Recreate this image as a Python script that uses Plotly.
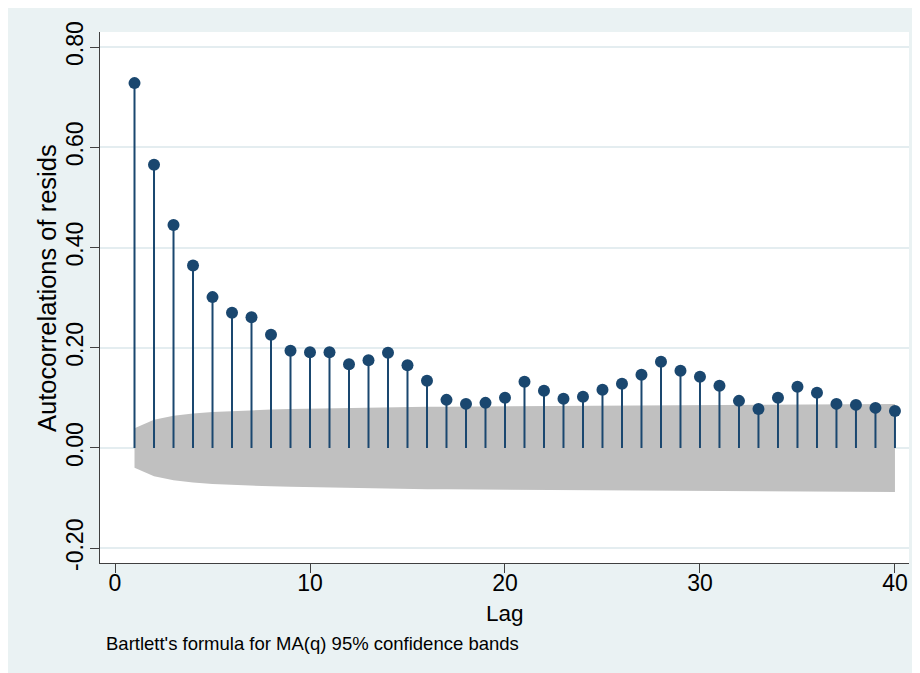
import plotly.graph_objects as go

# ---- data ----
lags = list(range(1, 41))
acf = [0.728, 0.565, 0.445, 0.364, 0.301, 0.270, 0.261, 0.226, 0.194, 0.191,
       0.191, 0.167, 0.175, 0.190, 0.165, 0.134, 0.096, 0.088, 0.090, 0.100,
       0.132, 0.114, 0.098, 0.102, 0.116, 0.128, 0.146, 0.172, 0.154, 0.142,
       0.124, 0.094, 0.078, 0.100, 0.122, 0.110, 0.088, 0.086, 0.080, 0.074]
# upper limit of the 95% confidence band (Bartlett)
band = [0.0392, 0.0563, 0.0644, 0.0689, 0.0718, 0.0737, 0.0753, 0.0766, 0.0776, 0.0784,
        0.0791, 0.0798, 0.0803, 0.0809, 0.0816, 0.0821, 0.0824, 0.0826, 0.0828, 0.0829,
        0.0831, 0.0834, 0.0837, 0.0838, 0.0840, 0.0843, 0.0846, 0.0850, 0.0855, 0.0859,
        0.0863, 0.0865, 0.0867, 0.0868, 0.0870, 0.0872, 0.0875, 0.0876, 0.0877, 0.0878]
y_tickvals = [-0.2, 0.0, 0.2, 0.4, 0.6, 0.8]
y_ticktext = ["-0.20", "0.00", "0.20", "0.40", "0.60", "0.80"]
x_tickvals = [0, 10, 20, 30, 40]
x_ticktext = ["0", "10", "20", "30", "40"]

NAVY = "#1a476f"
BG = "#EAF2F3"
FONT = "Liberation Sans, Arial, Helvetica, sans-serif"
AX = "#404040"

X_RANGE = [-0.77, 40.72]
Y_RANGE = [-0.2295, 0.830]

fig = go.Figure()

# confidence band
fig.add_trace(go.Scatter(x=lags, y=band, mode="lines", line=dict(width=0, color="#C0C0C0"),
                         showlegend=False, hoverinfo="skip"))
fig.add_trace(go.Scatter(x=lags, y=[-b for b in band], mode="lines",
                         line=dict(width=0, color="#C0C0C0"), fill="tonexty",
                         fillcolor="#C0C0C0", showlegend=False, hoverinfo="skip"))

# stems
sx, sy = [], []
for k, r in zip(lags, acf):
    sx += [k, k, None]
    sy += [0, r, None]
fig.add_trace(go.Scatter(x=sx, y=sy, mode="lines", line=dict(color=NAVY, width=2),
                         showlegend=False, hoverinfo="skip"))
# markers
fig.add_trace(go.Scatter(x=lags, y=acf, mode="markers",
                         marker=dict(color=NAVY, size=12, line=dict(width=0)),
                         showlegend=False))
# empty trace that activates the overlay axes carrying the tick labels
fig.add_trace(go.Scatter(x=[], y=[], xaxis="x2", yaxis="y2", showlegend=False,
                         hoverinfo="skip"))

OFF = 8  # page body margin
W, H = 920, 673
L, T = 100 - OFF, 32 - OFF
R = W - (909 - OFF)
B = H - (563 - OFF)
pw, ph = W - L - R, H - T - B


def fx(page_x):
    return (page_x - OFF - L) / pw


def fy(page_y):
    return (H - B - (page_y - OFF)) / ph


fig.update_layout(
    width=W, height=H,
    margin=dict(l=L, r=R, t=T, b=B, pad=0),
    paper_bgcolor=BG, plot_bgcolor="white",
    font=dict(family=FONT, color="black"),
    xaxis=dict(range=X_RANGE, tickvals=x_tickvals, showticklabels=False,
               showgrid=False, zeroline=False, showline=True, linecolor=AX,
               linewidth=1.2, ticks="outside", ticklen=9, tickwidth=1.2, tickcolor=AX),
    yaxis=dict(range=Y_RANGE, tickvals=y_tickvals, showticklabels=False,
               showgrid=True, gridcolor="#E4EDF0", gridwidth=1.5,
               zeroline=False, showline=True, linecolor=AX, linewidth=1.2,
               ticks="outside", ticklen=9, tickwidth=1.2, tickcolor=AX),
    xaxis2=dict(range=X_RANGE, overlaying="x", anchor="y2", side="bottom",
                tickvals=x_tickvals, ticktext=x_ticktext, ticks="", showgrid=False,
                zeroline=False, showline=False, ticklabelstandoff=4,
                tickfont=dict(size=23, family=FONT, color="black")),
    yaxis2=dict(range=Y_RANGE, overlaying="y", anchor="x2", side="left",
                tickvals=y_tickvals, ticktext=y_ticktext, tickangle=-90, ticks="",
                showgrid=False, zeroline=False, showline=False, ticklabelstandoff=11,
                tickfont=dict(size=23, family=FONT, color="black")),
    annotations=[
        dict(text="Autocorrelations of resids", xref="paper", yref="paper",
             x=fx(47), y=fy(288), textangle=-90, showarrow=False,
             xanchor="center", yanchor="middle", font=dict(size=25.5, family=FONT)),
        dict(text="Lag", xref="paper", yref="paper", x=0.5, y=fy(614),
             showarrow=False, xanchor="center", yanchor="middle",
             font=dict(size=22.5, family=FONT)),
        dict(text="Bartlett's formula for MA(q) 95% confidence bands", xref="paper",
             yref="paper", x=fx(104), y=fy(643), showarrow=False,
             xanchor="left", yanchor="middle", font=dict(size=18.5, family=FONT)),
    ],
)

fig.write_html("out.html")
